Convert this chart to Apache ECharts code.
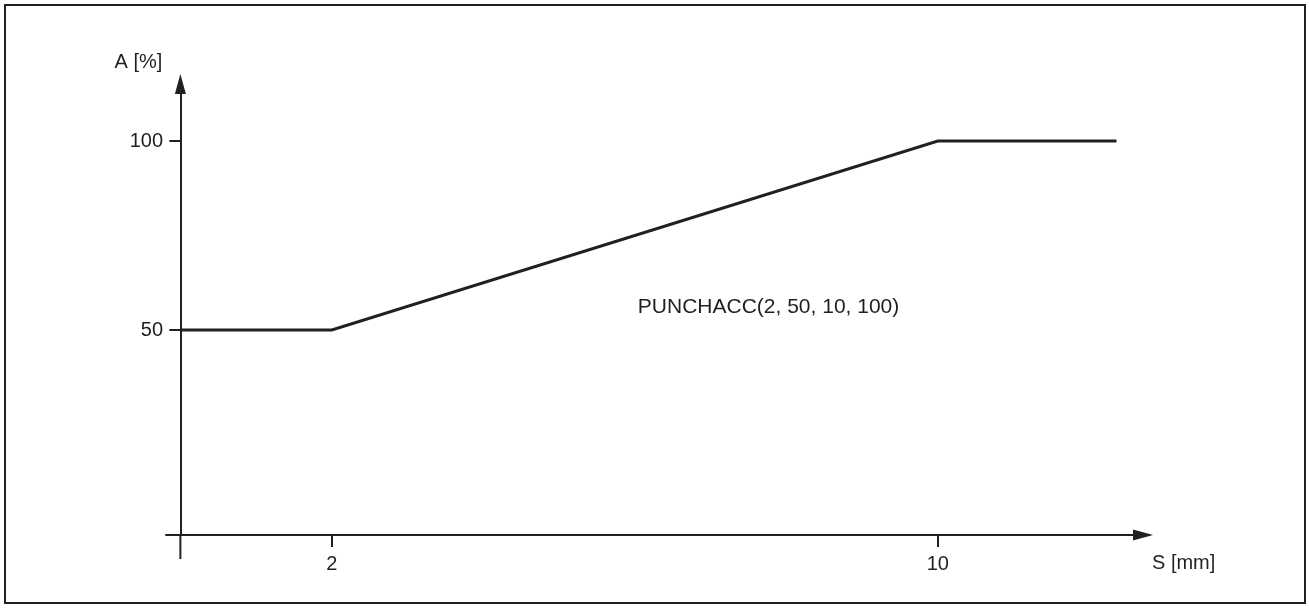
<!DOCTYPE html>
<html>
<head>
<meta charset="utf-8">
<script src="https://cdn.jsdelivr.net/npm/echarts@6/dist/echarts.min.js"></script>
<style>
  html, body { margin: 0; padding: 0; background: #fff; }
  #chart { width: 1309px; height: 609px; }
</style>
</head>
<body>
<div id="chart"></div>
<script>
// Stroke position S [mm] and acceleration A [%] of the PUNCHACC profile
const strokeMm = [0, 2, 10, 12.36];
const accelPct = [50, 50, 100, 100];
const xTickValues = [2, 10];
const yTickValues = [50, 100];
const xAxisTitle = 'S [mm]';
const yAxisTitle = 'A [%]';
const annotationText = 'PUNCHACC(2, 50, 10, 100)';
const annotationAt = [6.04, 56.0];

const ink = '#231f20';
const font = '"Liberation Sans", Arial, Helvetica, sans-serif';

const chart = echarts.init(document.getElementById('chart'), null, { renderer: 'canvas' });

const xMin = -0.19, xMax = 12.71;
const yMin = -4.23, yMax = 115.1;

chart.setOption({
  animation: false,
  backgroundColor: '#fff',
  grid: { left: 166, right: 1309 - 1143, top: 84, bottom: 609 - 535, containLabel: false },
  xAxis: {
    type: 'value',
    min: xMin,
    max: xMax,
    axisLine: {
      onZero: false,
      lineStyle: { color: ink, width: 2 },
      symbol: ['none', 'triangle'],
      symbolSize: [11, 20]
    },
    axisTick: { show: true, inside: false, length: 12, lineStyle: { color: ink, width: 2 }, customValues: xTickValues },
    axisLabel: { color: ink, fontFamily: font, fontSize: 20, margin: 19, customValues: xTickValues },
    splitLine: { show: false }
  },
  yAxis: {
    type: 'value',
    min: yMin,
    max: yMax,
    name: yAxisTitle,
    nameLocation: 'end',
    nameGap: 12,
    nameTextStyle: { color: ink, fontFamily: font, fontSize: 20, align: 'right', padding: [0, 18, 0, 0] },
    axisLine: {
      onZero: true,
      lineStyle: { color: ink, width: 2 },
      symbol: ['none', 'triangle'],
      symbolSize: [11, 20]
    },
    axisTick: { show: true, inside: false, length: 11, lineStyle: { color: ink, width: 2 }, customValues: yTickValues },
    axisLabel: { color: ink, fontFamily: font, fontSize: 20, margin: 3, customValues: yTickValues },
    splitLine: { show: false }
  },
  series: [{
    type: 'line',
    data: strokeMm.map((s, i) => [s, accelPct[i]]),
    symbol: 'none',
    clip: false,
    lineStyle: { color: ink, width: 3, join: 'miter' },
    markPoint: {
      symbol: 'circle',
      symbolSize: 0,
      silent: true,
      data: [{
        coord: annotationAt,
        label: {
          show: true,
          formatter: annotationText,
          position: 'right',
          distance: 0,
          color: ink,
          fontFamily: font,
          fontSize: 21
        }
      }]
    }
  }]
});

// Frame, the stub of the A axis below the S axis, and the S axis title
const axisFoot = chart.convertToPixel({ gridIndex: 0 }, [0, yMin]);
const axisEnd = chart.convertToPixel({ gridIndex: 0 }, [xMax, yMin]);
chart.setOption({
  graphic: [
    {
      type: 'rect',
      shape: { x: 5, y: 5, width: 1300, height: 598 },
      style: { fill: 'none', stroke: ink, lineWidth: 2 },
      silent: true
    },
    {
      type: 'line',
      shape: { x1: axisFoot[0], y1: axisFoot[1], x2: axisFoot[0], y2: axisFoot[1] + 24 },
      style: { stroke: ink, lineWidth: 2 },
      silent: true
    },
    {
      type: 'text',
      x: axisEnd[0] + 9,
      y: axisEnd[1] + 28,
      style: {
        text: xAxisTitle,
        fill: ink,
        font: '20px ' + font,
        align: 'left',
        verticalAlign: 'middle'
      },
      silent: true
    }
  ]
});
</script>
</body>
</html>
